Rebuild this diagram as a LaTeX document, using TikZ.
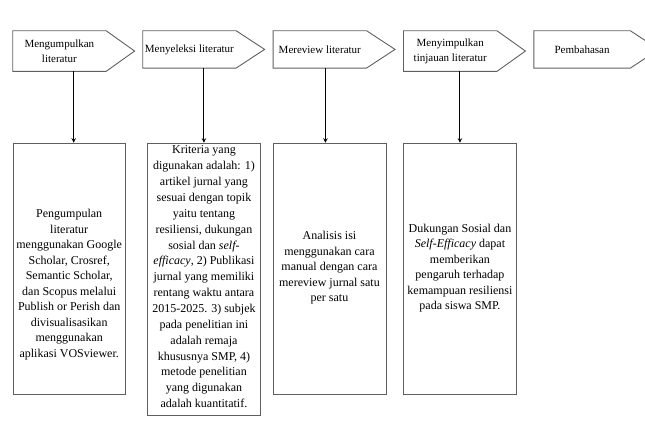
\documentclass[tikz,border=0pt]{standalone}
\usepackage{fontspec}
\setmainfont{Liberation Serif}
\usepackage{tikz}
\usetikzlibrary{arrows,positioning}
\usepackage{xcolor}
\definecolor{garis}{RGB}{95,95,95}
\tikzstyle{tahap} = [rectangle, minimum width=93pt, minimum height=37pt, inner sep=0pt, align=center, font=\fontsize{11}{15}\selectfont]
\tikzstyle{tepi} = [draw=garis, line width=0.9pt]
\tikzstyle{kotak} = [rectangle, tepi, minimum width=113pt, minimum height=251.5pt, inner sep=0pt, anchor=north west]
\tikzstyle{isi} = [align=center, inner sep=0pt, font=\fontsize{12}{15.5}\selectfont]
\tikzstyle{panah} = [line width=1pt, ->, >=stealth, black]

\begin{document}
\begin{tikzpicture}[x=1pt, y=-1pt]
\useasboundingbox (0,0) rectangle (645,429);

% Tahapan (atas)
\node (tahap1) [tahap, anchor=north west, minimum height=40.3pt] at (12.7,30.7) {Mengumpulkan\\literatur};
\node (tahap2) [tahap, right=36.6pt of tahap1.north east, anchor=north west] {Menyeleksi literatur};
\node (tahap3) [tahap, right=37pt of tahap2.north east, anchor=north west] {Mereview literatur};
\node (tahap4) [tahap, right=37pt of tahap3.north east, anchor=north west, minimum height=40.3pt] {Menyimpulkan\\tinjauan literatur};
\node (tahap5) [tahap, right=37pt of tahap4.north east, anchor=north west, minimum width=96pt] {Pembahasan};

\foreach \n in {tahap1,tahap2,tahap3,tahap4,tahap5}
  \draw[tepi] (\n.north west) -- (\n.north east) -- ([xshift=28.5pt]\n.east) -- (\n.south east) -- (\n.south west) -- cycle;

% Kotak keterangan (bawah)
\node (kotak1) [kotak, minimum width=112.5pt] at (12.5,142.7) {};
\node (kotak2) [kotak, minimum height=272.5pt] at (147,142.7) {};
\node (kotak3) [kotak] at (272.5,142.7) {};
\node (kotak4) [kotak] at (403,142.7) {};

\node (isi1) [isi] at ([yshift=-15.6pt]kotak1.center) {Pengumpulan\\literatur\\menggunakan Google\\Scholar, Crosref,\\Semantic Scholar,\\dan Scopus melalui\\Publish or Perish dan\\divisualisasikan\\menggunakan\\aplikasi VOSviewer.};
\node (isi2) [isi, font=\fontsize{12}{15.85}\selectfont] at ([yshift=2.5pt]kotak2.center) {Kriteria yang\\digunakan adalah: 1)\\artikel jurnal yang\\sesuai dengan topik\\yaitu tentang\\resiliensi, dukungan\\sosial dan \textit{self-}\\\textit{efficacy}, 2) Publikasi\\jurnal yang memiliki\\rentang waktu antara\\2015-2025. 3) subjek\\pada penelitian ini\\adalah remaja\\khususnya SMP, 4)\\metode penelitian\\yang digunakan\\adalah kuantitatif.};
\node (isi3) [isi] at ([yshift=1pt]kotak3.center) {Analisis isi\\menggunakan cara\\manual dengan cara\\mereview jurnal satu\\per satu};
\node (isi4) [isi] at ([yshift=1pt]kotak4.center) {Dukungan Sosial dan\\\textit{Self-Efficacy} dapat\\memberikan\\pengaruh terhadap\\kemampuan resiliensi\\pada siswa SMP.};

% Panah
\foreach \i/\dx in {1/4.5,2/0,3/-4,4/0}
  \draw[panah] ([xshift=\dx pt]kotak\i.north |- tahap\i.south) -- ([xshift=\dx pt]kotak\i.north);

\end{tikzpicture}
\end{document}
